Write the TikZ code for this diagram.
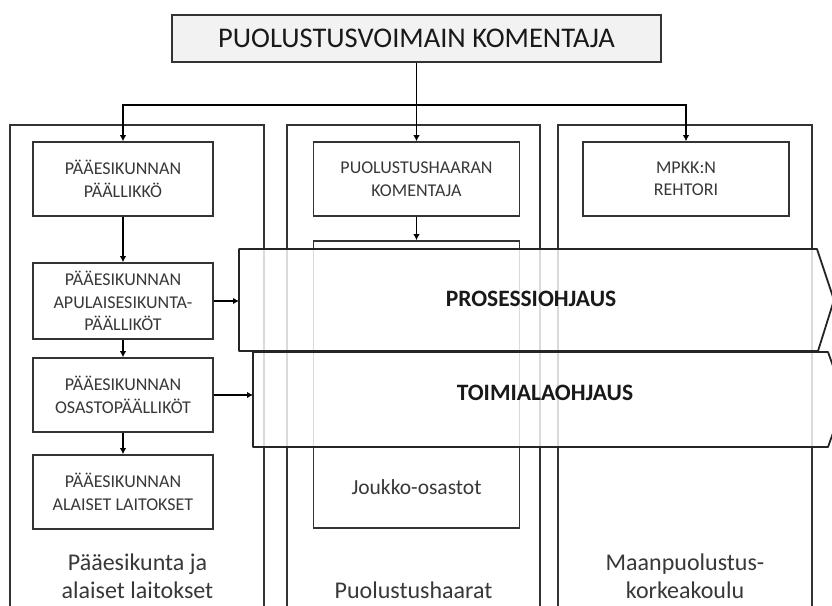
\documentclass[tikz,border=0pt]{standalone}
\usepackage{fontspec}
\setmainfont{Carlito}
\usetikzlibrary{arrows.meta}
\definecolor{boxline}{HTML}{333333}
\definecolor{txt}{HTML}{383838}
\definecolor{titlefill}{HTML}{F2F2F2}
\definecolor{chevline}{HTML}{252525}
\begin{document}
\begin{tikzpicture}[x=1pt,y=-1pt,
  ibox/.style={draw=boxline, line width=1.6pt, fill=white, align=center, text=txt, inner sep=0pt, font=\fontsize{18}{22.5}\selectfont},
  colbox/.style={draw=boxline, line width=1.4pt, inner sep=0pt},
  conn/.style={draw=black, line width=1.9pt},
  arr/.style={conn, -{Latex[length=6pt,width=6.5pt]}},
  chev/.style={draw=chevline, line width=1.8pt, fill=white, fill opacity=0.82, line join=round},
  chevtxt/.style={font=\bfseries\fontsize{23.5}{28}\selectfont, text=black!90, inner sep=0pt},
  coltxt/.style={font=\fontsize{24}{28}\selectfont, text=txt, align=center, inner sep=0pt}
]
\useasboundingbox (0,0) rectangle (832,605);
\fill[white] (0,0) rectangle (832,605);
\clip (0,0) rectangle (832,605);

% title
\node[draw=boxline, line width=1.6pt, fill=titlefill, minimum width=489pt, minimum height=47pt, inner sep=0pt,
      font=\fontsize{28.5}{32}\selectfont, text=black!90] (top) at (416.5,38.5) {PUOLUSTUSVOIMAIN KOMENTAJA};

% columns
\node[colbox, minimum width=254pt, minimum height=560pt] (colA) at (137,405) {};
\node[colbox, minimum width=253pt, minimum height=560pt] (colB) at (413.5,405) {};
\node[colbox, minimum width=254pt, minimum height=560pt] (colC) at (685,405) {};

% left column boxes
\node[ibox, minimum width=180pt, minimum height=74pt] (b1) at (123,179) {PÄÄESIKUNNAN\\PÄÄLLIKKÖ};
\node[ibox, minimum width=180pt, minimum height=76pt] (b2) at (123,301) {PÄÄESIKUNNAN\\APULAISESIKUNTA-\\PÄÄLLIKÖT};
\node[ibox, minimum width=180pt, minimum height=74pt] (b3) at (123,395) {PÄÄESIKUNNAN\\OSASTOPÄÄLLIKÖT};
\node[ibox, minimum width=180pt, minimum height=74pt] (b4) at (123,492) {PÄÄESIKUNNAN\\ALAISET LAITOKSET};

% middle column boxes
\node[ibox, minimum width=206pt, minimum height=74pt] (puol) at (416.5,179) {PUOLUSTUSHAARAN\\KOMENTAJA};
\node[ibox, minimum width=206pt, minimum height=287pt] (jouk) at (416.5,384.5) {};
\node[font=\fontsize{21.5}{26}\selectfont, text=txt, inner sep=0pt] (joukt) at (416.5,487) {Joukko-osastot};

% right column box
\node[ibox, minimum width=206pt, minimum height=74pt] (mpkk) at (686,179) {MPKK:N\\REHTORI};

% column labels
\node[coltxt] (labA) at (137.5,576) {Pääesikunta ja\\alaiset laitokset};
\node[coltxt] (labB) at (413.5,590) {Puolustushaarat};
\node[coltxt] (labC) at (685,576) {Maanpuolustus-\\korkeakoulu};

% connectors from top
\coordinate (hub) at (416.5,105);
\draw[conn] (top.south) -- (hub);
\draw[arr] (hub) -| (b1.north);
\draw[arr] (hub) -- (puol.north);
\draw[arr] (hub) -| (mpkk.north);

% connectors in columns
\draw[arr] (b1.south) -- (b2.north);
\draw[arr] (b2.south) -- (b3.north);
\draw[arr] (b3.south) -- (b4.north);
\draw[arr] (puol.south) -- (jouk.north);

% chevrons
\coordinate (p1nw) at (239,249);
\coordinate (p1ne) at (817,249);
\coordinate (p1tip) at (834,300);
\coordinate (p1se) at (818,351);
\coordinate (p1sw) at (239,351);
\draw[chev] (p1nw) -- (p1ne) -- (p1tip) -- (p1se) -- (p1sw) -- cycle;
\node[chevtxt] (proc) at (531,299) {PROSESSIOHJAUS};

\coordinate (p2nw) at (253,352);
\coordinate (p2ne) at (828,352);
\coordinate (p2tip) at (845,399.5);
\coordinate (p2se) at (828,447);
\coordinate (p2sw) at (253,447);
\draw[chev] (p2nw) -- (p2ne) -- (p2tip) -- (p2se) -- (p2sw) -- cycle;
\node[chevtxt] (toim) at (545,393) {TOIMIALAOHJAUS};

% connectors to chevrons
\draw[arr] (b2.east) -- (b2.east -| p1nw);
\draw[arr] (b3.east) -- (b3.east -| p2nw);
\end{tikzpicture}
\end{document}
